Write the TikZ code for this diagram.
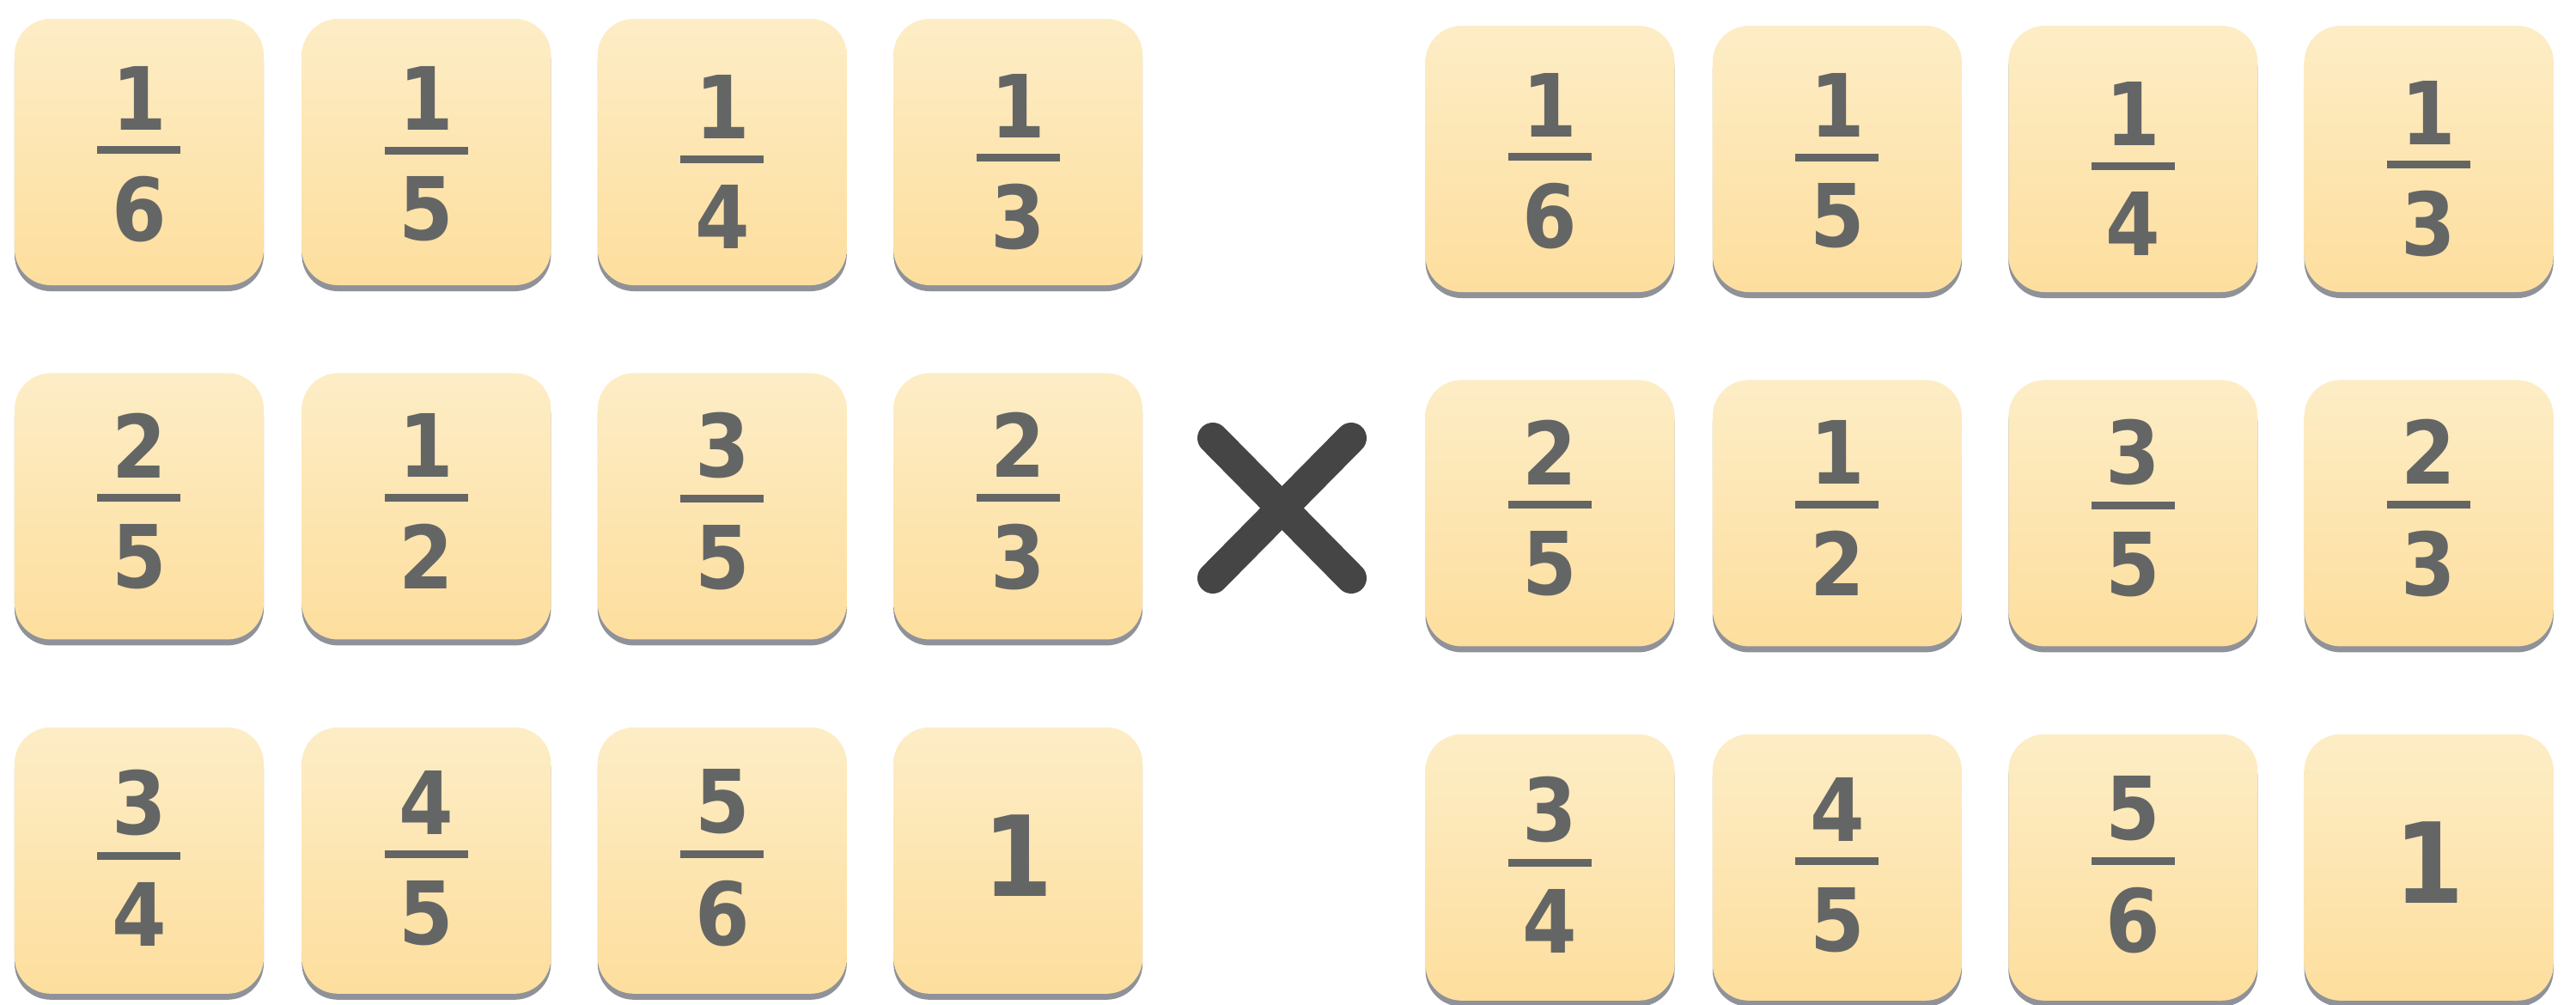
\documentclass[tikz,border=0pt]{standalone}
\usepackage{fontspec}
\usepackage{tikz}
\usetikzlibrary{positioning, shadows}
\newfontfamily\tilefont{DejaVu Sans Condensed Bold}
\definecolor{tiletop}{HTML}{FDEDC6}
\definecolor{tilebot}{HTML}{FDDE9D}
\definecolor{tileshade}{HTML}{8F9299}
\definecolor{digitgray}{HTML}{646665}
\definecolor{markgray}{HTML}{454545}
% stacked fraction; optional argument lifts the bar above the tile centre
\newcommand{\frc}[3][0cm]{\vbox{\kern\dimexpr0.08cm-#1-#1\relax
  \hbox to 0.97cm{\hss#2\hss}\kern0.19cm
  \hrule height 0.09cm\kern0.26cm
  \hbox to 0.97cm{\hss#3\hss}}}

\begin{document}
\begin{tikzpicture}[
  node distance=1.01cm and 0.53cm,
  tile/.style={rectangle, rounded corners=0.42cm, minimum width=2.9cm,
               minimum height=3.1cm, inner sep=0pt,
               top color=tiletop, bottom color=tilebot, text=digitgray,
               font=\tilefont\fontsize{28.9pt}{32pt}\selectfont,
               drop shadow={shadow xshift=0cm, shadow yshift=-0.07cm,
                            fill=tileshade, opacity=1}},
  bigone/.style={font=\tilefont\fontsize{37pt}{40pt}\selectfont},
  crossline/.style={markgray, line width=0.36cm, line cap=round},
]
  \useasboundingbox (0,0) rectangle (29.99,-11.69);

  % left set
  \node[tile] (L1) at (1.62,-1.77) {\frc[0.015cm]{1}{6}};
  \node[tile, right=0.43cm of L1] (L2) {\frc[0.015cm]{1}{5}};
  \node[tile, right=of L2] (L3) {\frc[-0.075cm]{1}{4}};
  \node[tile, right=of L3] (L4) {\frc[-0.075cm]{1}{3}};
  \node[tile, below=of L1] (L5) {\frc[0.1cm]{2}{5}};
  \node[tile, right=0.43cm of L5] (L6) {\frc[0.1cm]{1}{2}};
  \node[tile, right=of L6] (L7) {\frc[0.1cm]{3}{5}};
  \node[tile, right=of L7] (L8) {\frc[0.1cm]{2}{3}};
  \node[tile, below=of L5] (L9) {\frc[0.07cm]{3}{4}};
  \node[tile, right=0.43cm of L9] (L10) {\frc[0.07cm]{4}{5}};
  \node[tile, right=of L10] (L11) {\frc[0.07cm]{5}{6}};
  \node[tile, bigone, right=of L11] (L12) {\raisebox{0.11cm}{1}};

  % right set
  \node[tile] (R1) at (18.045,-1.85) {\frc[0.015cm]{1}{6}};
  \node[tile, right=0.43cm of R1] (R2) {\frc[0.015cm]{1}{5}};
  \node[tile, right=of R2] (R3) {\frc[-0.075cm]{1}{4}};
  \node[tile, right=of R3] (R4) {\frc[-0.075cm]{1}{3}};
  \node[tile, below=of R1] (R5) {\frc[0.1cm]{2}{5}};
  \node[tile, right=0.43cm of R5] (R6) {\frc[0.1cm]{1}{2}};
  \node[tile, right=of R6] (R7) {\frc[0.1cm]{3}{5}};
  \node[tile, right=of R7] (R8) {\frc[0.1cm]{2}{3}};
  \node[tile, below=of R5] (R9) {\frc[0.07cm]{3}{4}};
  \node[tile, right=0.43cm of R9] (R10) {\frc[0.07cm]{4}{5}};
  \node[tile, right=of R10] (R11) {\frc[0.07cm]{5}{6}};
  \node[tile, bigone, right=of R11] (R12) {\raisebox{0.11cm}{1}};

  % times sign
  \draw[crossline] (14.12,-5.10) -- (15.73,-6.73);
  \draw[crossline] (15.73,-5.10) -- (14.12,-6.73);
\end{tikzpicture}
\end{document}
